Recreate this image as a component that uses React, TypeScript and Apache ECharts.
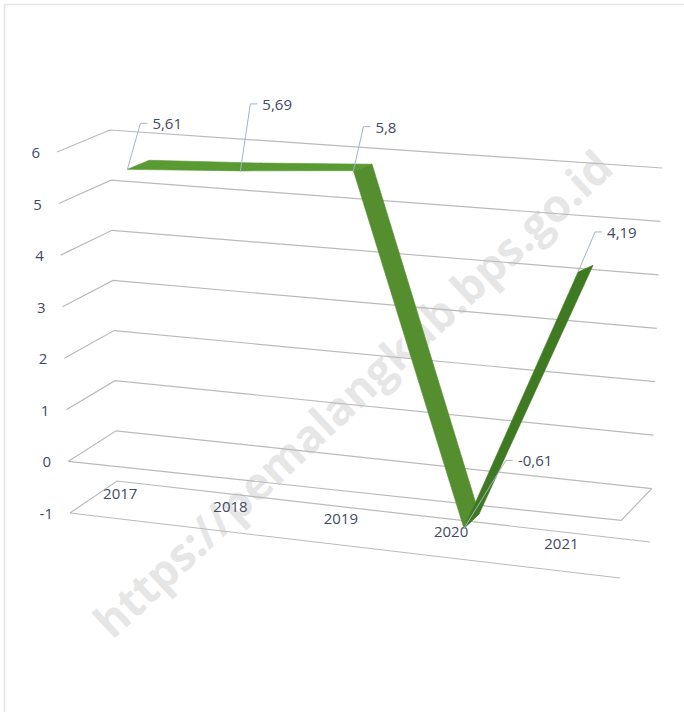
import React, { useEffect, useRef } from "react";
import * as echarts from "echarts";

// ---- data ----
const years = ["2017", "2018", "2019", "2020", "2021"];
const values = [5.61, 5.69, 5.8, -0.61, 4.19];
const yTicks = [-1, 0, 1, 2, 3, 4, 5, 6];
const Y_MIN = -1;
const Y_MAX = 6;

// ---- layout: projected 3D box corners (front/back, left/right, bottom/top) ----
const BOX = {
  FLb: [70, 513], FLt: [57, 152],
  FRb: [620, 578], FRt: [628, 175],
  BLb: [117, 481], BLt: [110, 130],
  BRb: [650, 542], BRt: [662, 168],
};
const Z_FRONT = 0.25;
const Z_BACK = 0.68;
// data label leader offsets (layout)
const LABEL_OFFSETS = [[13, -46], [10, -67], [10, -44], [42, -68], [17, -40]];

const TEXT_COLOR = "#3f4a63";
const FONT = '15px "Open Sans"';

const lerp = (a: number[], b: number[], t: number) => [a[0] + (b[0] - a[0]) * t, a[1] + (b[1] - a[1]) * t];
function proj(X: number, Yn: number, Z: number) {
  const FL = lerp(BOX.FLb, BOX.FLt, Yn);
  const FR = lerp(BOX.FRb, BOX.FRt, Yn);
  const BL = lerp(BOX.BLb, BOX.BLt, Yn);
  const BR = lerp(BOX.BRb, BOX.BRt, Yn);
  const F = lerp(FL, FR, X);
  const B = lerp(BL, BR, X);
  return lerp(F, B, Z);
}
function norm(cs: any, pt: number[]) {
  return [(pt[0] - cs.x) / cs.width, (cs.y + cs.height - pt[1]) / cs.height];
}

export default function App() {
  const ref = useRef<HTMLDivElement>(null);
  useEffect(() => {
    if (!ref.current) return;
    const chart = echarts.init(ref.current, null, { renderer: "svg" });
    const option: any = {
      animation: false,
      backgroundColor: "#ffffff",
      grid: { left: 100, right: 100, top: 100, bottom: 100 },
      xAxis: { type: "category", data: years, boundaryGap: true, show: false },
      yAxis: { type: "value", min: Y_MIN, max: Y_MAX, interval: 1, show: false },
      graphic: [
        {
          type: "rect",
          z: 0,
          shape: { x: 4.5, y: 4.5, width: 700, height: 720 },
          style: { fill: "none", stroke: "#e4e4e9", lineWidth: 1.5 },
        },
        {
          type: "text",
          z: 0,
          x: 352,
          y: 393,
          rotation: (43 * Math.PI) / 180,
          style: {
            text: "https://pemalangkab.bps.go.id",
            font: 'bold 45px "Open Sans"',
            fill: "#e6e6e6",
            align: "center",
            verticalAlign: "middle",
          },
        },
      ],
      series: [
        {
          type: "custom",
          name: "frame",
          z: 1,
          clip: false,
          silent: true,
          data: yTicks.map((t) => [0, t]),
          encode: { x: 0, y: 1 },
          renderItem: (params: any, api: any) => {
            const cs = params.coordSys;
            const t = api.value(1);
            const Yn = norm(cs, api.coord([0, t]))[1];
            const FL = proj(0, Yn, 0);
            const BL = proj(0, Yn, 1);
            const BR = proj(1, Yn, 1);
            const FR = proj(1, Yn, 0);
            const lineStyle = { stroke: "#bababa", lineWidth: 1.2, fill: "none" };
            const children: any[] = [
              { type: "polyline", shape: { points: [FL, BL, BR] }, style: lineStyle },
            ];
            if (t === 0) {
              children.push({ type: "polyline", shape: { points: [BR, FR, FL] }, style: lineStyle });
            }
            if (t === Y_MIN) {
              children.push({ type: "polyline", shape: { points: [FL, FR] }, style: lineStyle });
            }
            children.push({
              type: "text",
              x: FL[0] - 17,
              y: FL[1],
              style: { text: String(t), font: FONT, fill: TEXT_COLOR, align: "right", verticalAlign: "middle" },
            });
            return { type: "group", children };
          },
        },
        {
          type: "custom",
          name: "xlabels",
          z: 1,
          clip: false,
          silent: true,
          data: years.map((y, i) => [i, Y_MIN]),
          encode: { x: 0, y: 1 },
          renderItem: (params: any, api: any) => {
            const cs = params.coordSys;
            const i = api.value(0);
            const p = norm(cs, api.coord([i, Y_MIN + 0.5]));
            const s = proj(p[0], p[1], 0);
            return {
              type: "text",
              x: s[0] - 4,
              y: s[1],
              style: { text: years[i], font: FONT, fill: TEXT_COLOR, align: "center", verticalAlign: "middle" },
            };
          },
        },
        {
          type: "custom",
          name: "ribbon",
          z: 3,
          clip: false,
          data: values.map((v, i) => [i, v]),
          encode: { x: 0, y: 1 },
          renderItem: (params: any, api: any) => {
            const cs = params.coordSys;
            const i = api.value(0);
            if (i >= values.length - 1) return { type: "group", children: [] };
            const v0 = api.value(1);
            const v1 = values[i + 1];
            const a = norm(cs, api.coord([i, v0]));
            const b = norm(cs, api.coord([i + 1, v1]));
            const pts = [
              proj(a[0], a[1], Z_FRONT),
              proj(b[0], b[1], Z_FRONT),
              proj(b[0], b[1], Z_BACK),
              proj(a[0], a[1], Z_BACK),
            ];
            const dv = v1 - v0;
            const color = Math.abs(dv) < 1 ? "#5a9a33" : dv < 0 ? "#558e2f" : "#3f7a22";
            return {
              type: "polygon",
              shape: { points: pts },
              style: { fill: color, stroke: color, lineWidth: 0.6 },
            };
          },
        },
        {
          type: "custom",
          name: "labels",
          z: 4,
          clip: false,
          silent: true,
          data: values.map((v, i) => [i, v]),
          encode: { x: 0, y: 1 },
          renderItem: (params: any, api: any) => {
            const cs = params.coordSys;
            const i = api.value(0);
            const v = api.value(1);
            const p = norm(cs, api.coord([i, v]));
            const anchor = proj(p[0], p[1], Z_FRONT);
            const off = LABEL_OFFSETS[i];
            const elbow = [anchor[0] + off[0], anchor[1] + off[1]];
            const end = [elbow[0] + 7, elbow[1]];
            return {
              type: "group",
              children: [
                {
                  type: "polyline",
                  shape: { points: [anchor, elbow, end] },
                  style: { stroke: "#a3b3cb", lineWidth: 1, fill: "none" },
                },
                {
                  type: "text",
                  x: end[0] + 5,
                  y: end[1],
                  style: {
                    text: String(v).replace(".", ","),
                    font: FONT,
                    fill: TEXT_COLOR,
                    align: "left",
                    verticalAlign: "middle",
                  },
                },
              ],
            };
          },
        },
      ],
    };
    chart.setOption(option);
    return () => chart.dispose();
  }, []);
  return (
    <div
      ref={ref}
      style={{ position: "absolute", left: 0, top: 0, width: 684, height: 712 }}
    />
  );
}
